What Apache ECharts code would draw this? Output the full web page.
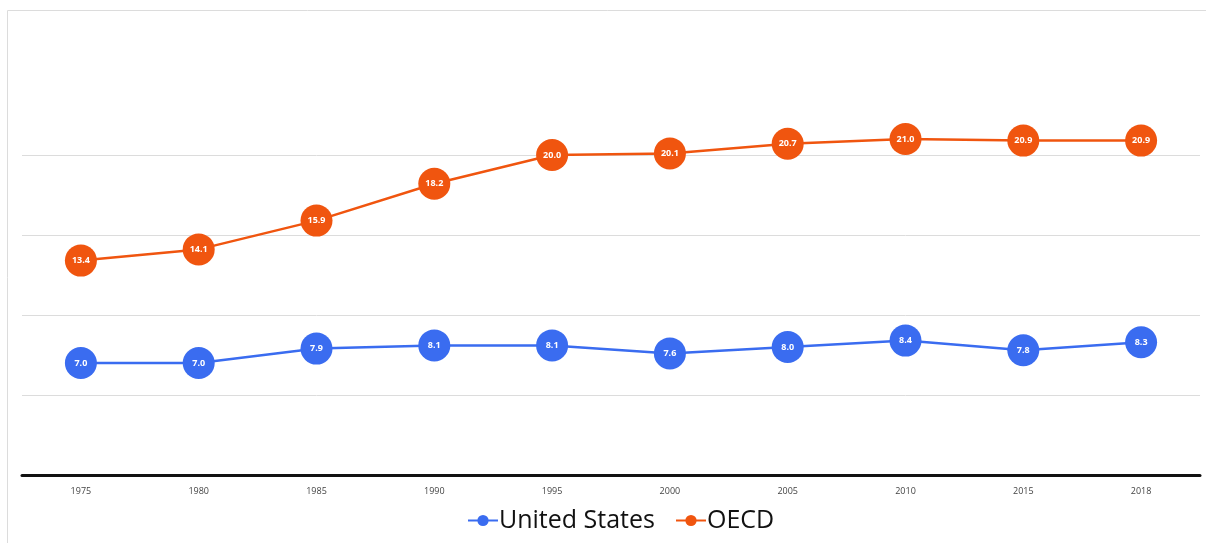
<!DOCTYPE html>
<html><head><meta charset="utf-8">
<script src="https://cdn.jsdelivr.net/npm/echarts@6/dist/echarts.min.js"></script>
<style>html,body{margin:0;padding:0;background:#fff}#c{width:1206px;height:543px}</style>
</head><body><div id="c"></div>
<script>
const years = ['1975','1980','1985','1990','1995','2000','2005','2010','2015','2018'];
const unitedStates = [7.0, 7.0, 7.9, 8.1, 8.1, 7.6, 8.0, 8.4, 7.8, 8.3];
const oecd = [13.4, 14.1, 15.9, 18.2, 20.0, 20.1, 20.7, 21.0, 20.9, 20.9];
const blue = '#3a6cf0';
const orange = '#f0550f';
const chart = echarts.init(document.getElementById('c'));
function mk(name, data, color){
  return {
    name, type:'line', data, color,
    symbol:'circle', symbolSize:32,
    lineStyle:{color, width:2.5},
    itemStyle:{color},
    label:{show:true, position:'inside', color:'#fff', fontSize:9, fontWeight:'bold',
      fontFamily:'Open Sans', formatter:p=>p.value.toFixed(1)},
    emphasis:{disabled:true}
  };
}
chart.setOption({
  animation:false,
  graphic:[{type:'rect', shape:{x:7.5,y:10.5,width:1210,height:540},
    style:{fill:'none', stroke:'#dcdcdc', lineWidth:1}, silent:true}],
  grid:{left:22, right:6, top:75, bottom:68},
  legend:{bottom:5, left:462, itemWidth:30, itemHeight:14, itemGap:20,
    textStyle:{fontSize:25, color:'#111', fontFamily:'Open Sans', padding:[0,0,0,-4]},
    data:['United States','OECD']},
  xAxis:{type:'category', data:years, boundaryGap:true,
    axisLine:{lineStyle:{color:'#111', width:3}},
    axisTick:{show:false},
    axisLabel:{color:'#444', fontSize:9, margin:12, fontFamily:'Open Sans'}},
  yAxis:{type:'value', min:0, max:25, interval:5,
    axisLabel:{show:false}, axisLine:{show:false}, axisTick:{show:false},
    splitLine:{lineStyle:{color:['transparent','#dcdcdc','#dcdcdc','#dcdcdc','#dcdcdc','transparent'], width:1}}},
  series:[mk('United States', unitedStates, blue), mk('OECD', oecd, orange)]
});
</script></body></html>
